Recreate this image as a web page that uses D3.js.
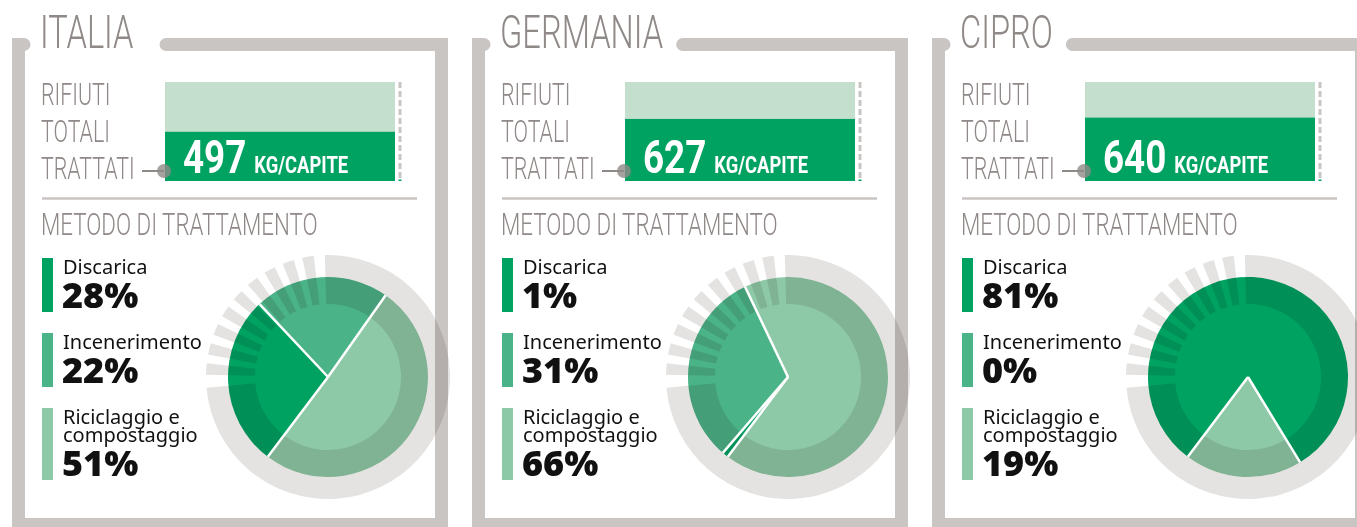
<!DOCTYPE html>
<html>
<head>
<meta charset="utf-8">
<script src="https://cdn.jsdelivr.net/npm/d3@7"></script>
<style>
    body { margin: 0; background: #fff; }
    svg { display: block; }
    .blend { mix-blend-mode: multiply; }
</style>
</head>
<body>
<svg id="vis-svg" width="1357" height="527"></svg>
<script>
// Data
const countries = ["ITALIA", "GERMANIA", "CIPRO"];
const totals = [497, 627, 640];
const methods = ["Discarica", "Incenerimento", "Riciclaggio e\ncompostaggio"];
const discarica = [28, 1, 81];
const incenerimento = [22, 31, 0];
const riciclaggio = [51, 66, 19];
const totalMax = 1000;

// Style
const methodColors = ["#00a262", "#4bb388", "#8dc9a7"],
    frameGrey = "#c9c5c3",
    textGrey = "#8f8987",
    ringGrey = "#e5e3e1",
    condFont = "Roboto, 'Liberation Sans', sans-serif",
    bodyFont = "'Noto Sans', 'Open Sans', sans-serif",
    titleSquash = 0.71,
    labelSquash = 0.69,
    boldSquash = 0.8,
    panelStep = 460,
    titleGap = [26, 13, 13];

const deg = Math.PI / 180;
const svg = d3.select("#vis-svg");

// Scale for the total bar (kg per capita)
const yTot = d3.scaleLinear().domain([0, totalMax]).range([181, 82]);

const pie = d3.pie()
    .sort(null)
    .value(d => d)
    .startAngle(217 * deg)
    .endAngle(217 * deg + 2 * Math.PI);

const arc = d3.arc().innerRadius(0).outerRadius(100);
const ringArc = d3.arc().innerRadius(73).outerRadius(122);

function squashText(g, x, y, txt, size, weight, squash, color, family) {
    return g.append("text")
        .attr("transform", "translate(" + x + "," + y + ") scale(" + squash + ",1)")
        .style("font-family", family || condFont)
        .style("font-size", size + "px")
        .style("font-weight", weight)
        .attr("fill", color)
        .text(txt);
}

countries.forEach(function (name, i) {
    const ox = i * panelStep;
    const g = svg.append("g");
    const fx = 12 + ox;

    // Frame
    g.append("rect").attr("x", fx).attr("y", 38).attr("width", 13).attr("height", 500).attr("fill", frameGrey);
    g.append("rect").attr("x", fx + 423).attr("y", 38).attr("width", 13).attr("height", 500).attr("fill", frameGrey);
    g.append("rect").attr("x", fx).attr("y", 518).attr("width", 436).attr("height", 13).attr("fill", frameGrey);
    g.append("rect").attr("x", fx).attr("y", 38).attr("width", 12).attr("height", 13).attr("fill", frameGrey);
    g.append("circle").attr("cx", fx + 12).attr("cy", 44.5).attr("r", 6.5).attr("fill", frameGrey);

    // Country title
    const title = squashText(g, 40 + ox, 48, name, 46, 300, titleSquash, textGrey);
    const titleEnd = 40 + ox + title.node().getComputedTextLength() * titleSquash;
    const sx = titleEnd + titleGap[i];
    g.append("circle").attr("cx", sx + 6.5).attr("cy", 44.5).attr("r", 6.5).attr("fill", frameGrey);
    g.append("rect").attr("x", sx + 6.5).attr("y", 38).attr("width", fx + 436 - sx - 6.5).attr("height", 13).attr("fill", frameGrey);

    // Rifiuti totali trattati
    ["RIFIUTI", "TOTALI", "TRATTATI"].forEach(function (t, k) {
        squashText(g, 41 + ox, 105 + k * 37, t, 31, 300, labelSquash, textGrey);
    });

    g.append("rect")
        .attr("x", 165 + ox).attr("y", yTot(totalMax))
        .attr("width", 230).attr("height", yTot(0) - yTot(totalMax))
        .attr("fill", "#c5dfcf");
    g.append("rect")
        .attr("x", 165 + ox).attr("y", yTot(totals[i]))
        .attr("width", 230).attr("height", yTot(0) - yTot(totals[i]))
        .attr("fill", methodColors[0]);

    // dashed reference line
    g.append("line")
        .attr("x1", 400 + ox).attr("x2", 400 + ox)
        .attr("y1", yTot(totalMax)).attr("y2", yTot(0))
        .attr("stroke", frameGrey).attr("stroke-width", 3)
        .attr("stroke-dasharray", "6,3");
    g.append("rect").attr("x", 398.5 + ox).attr("y", 179.5).attr("width", 3).attr("height", 1.5).attr("fill", methodColors[0]);

    // connector
    g.append("line")
        .attr("x1", 142 + ox).attr("x2", 164 + ox)
        .attr("y1", 171).attr("y2", 171)
        .attr("stroke", textGrey).attr("stroke-width", 2);
    g.append("circle").attr("cx", 164 + ox).attr("cy", 171).attr("r", 7)
        .attr("fill", textGrey).attr("opacity", 0.8);

    const num = squashText(g, 183 + ox, 173, totals[i], 46, 700, boldSquash, "#fff");
    const numEnd = 183 + ox + num.node().getComputedTextLength() * boldSquash;
    squashText(g, numEnd + 8, 173, "KG/CAPITE", 23, 700, boldSquash, "#fff");

    // separator
    g.append("line")
        .attr("x1", 42 + ox).attr("x2", 417 + ox)
        .attr("y1", 198.5).attr("y2", 198.5)
        .attr("stroke", frameGrey).attr("stroke-width", 2.5);

    squashText(g, 41 + ox, 235, "METODO DI TRATTAMENTO", 31, 300, 0.72, textGrey);

    // Legend
    const values = [discarica[i], incenerimento[i], riciclaggio[i]];
    methods.forEach(function (m, j) {
        const top = 258 + j * 75;
        const lines = m.split("\n");
        lines.forEach(function (l, k) {
            g.append("text")
                .attr("x", 63 + ox).attr("y", top + 16 + k * 18)
                .style("font-family", bodyFont)
                .style("font-size", "20px")
                .attr("fill", "#111")
                .text(l);
        });
        const pctY = top + 16 + (lines.length - 1) * 18 + 34;
        g.append("text")
            .attr("x", 62 + ox).attr("y", pctY)
            .style("font-family", bodyFont)
            .style("font-size", "36px")
            .style("font-weight", 900)
            .attr("fill", "#111")
            .text(values[j] + "%");
        g.append("rect")
            .attr("x", 42 + ox).attr("y", top)
            .attr("width", 11).attr("height", pctY + 4 - top)
            .attr("fill", methodColors[j]);
    });

    // Pie
    const pg = g.append("g").attr("transform", "translate(" + (328 + ox) + ",377)");
    const slices = pie(values);
    pg.selectAll(".slice")
        .data(slices)
        .enter().append("path")
        .attr("class", "slice")
        .attr("d", arc)
        .attr("fill", (d, j) => methodColors[j]);

    // grey ring and comb, blended over pie and frame
    const rg = g.append("g").attr("class", "blend")
        .attr("transform", "translate(" + (328 + ox) + ",377)");
    rg.append("path")
        .attr("d", ringArc({ startAngle: -1.5 * deg, endAngle: 265 * deg }))
        .attr("fill", ringGrey);
    rg.selectAll(".comb")
        .data(d3.range(9))
        .enter().append("path")
        .attr("d", k => ringArc({ startAngle: (271 + k * 9.6) * deg, endAngle: (276.5 + k * 9.6) * deg }))
        .attr("fill", ringGrey);

    // white separators
    const sep = g.append("g").attr("transform", "translate(" + (328 + ox) + ",377)");
    sep.selectAll("line")
        .data(slices.filter(d => d.value > 0 && d.value < 100))
        .enter().append("line")
        .attr("x1", 0).attr("y1", 0)
        .attr("x2", d => 100 * Math.sin(d.startAngle))
        .attr("y2", d => -100 * Math.cos(d.startAngle))
        .attr("stroke", "#fff")
        .attr("stroke-width", 2.5);
});
</script>
</body>
</html>
